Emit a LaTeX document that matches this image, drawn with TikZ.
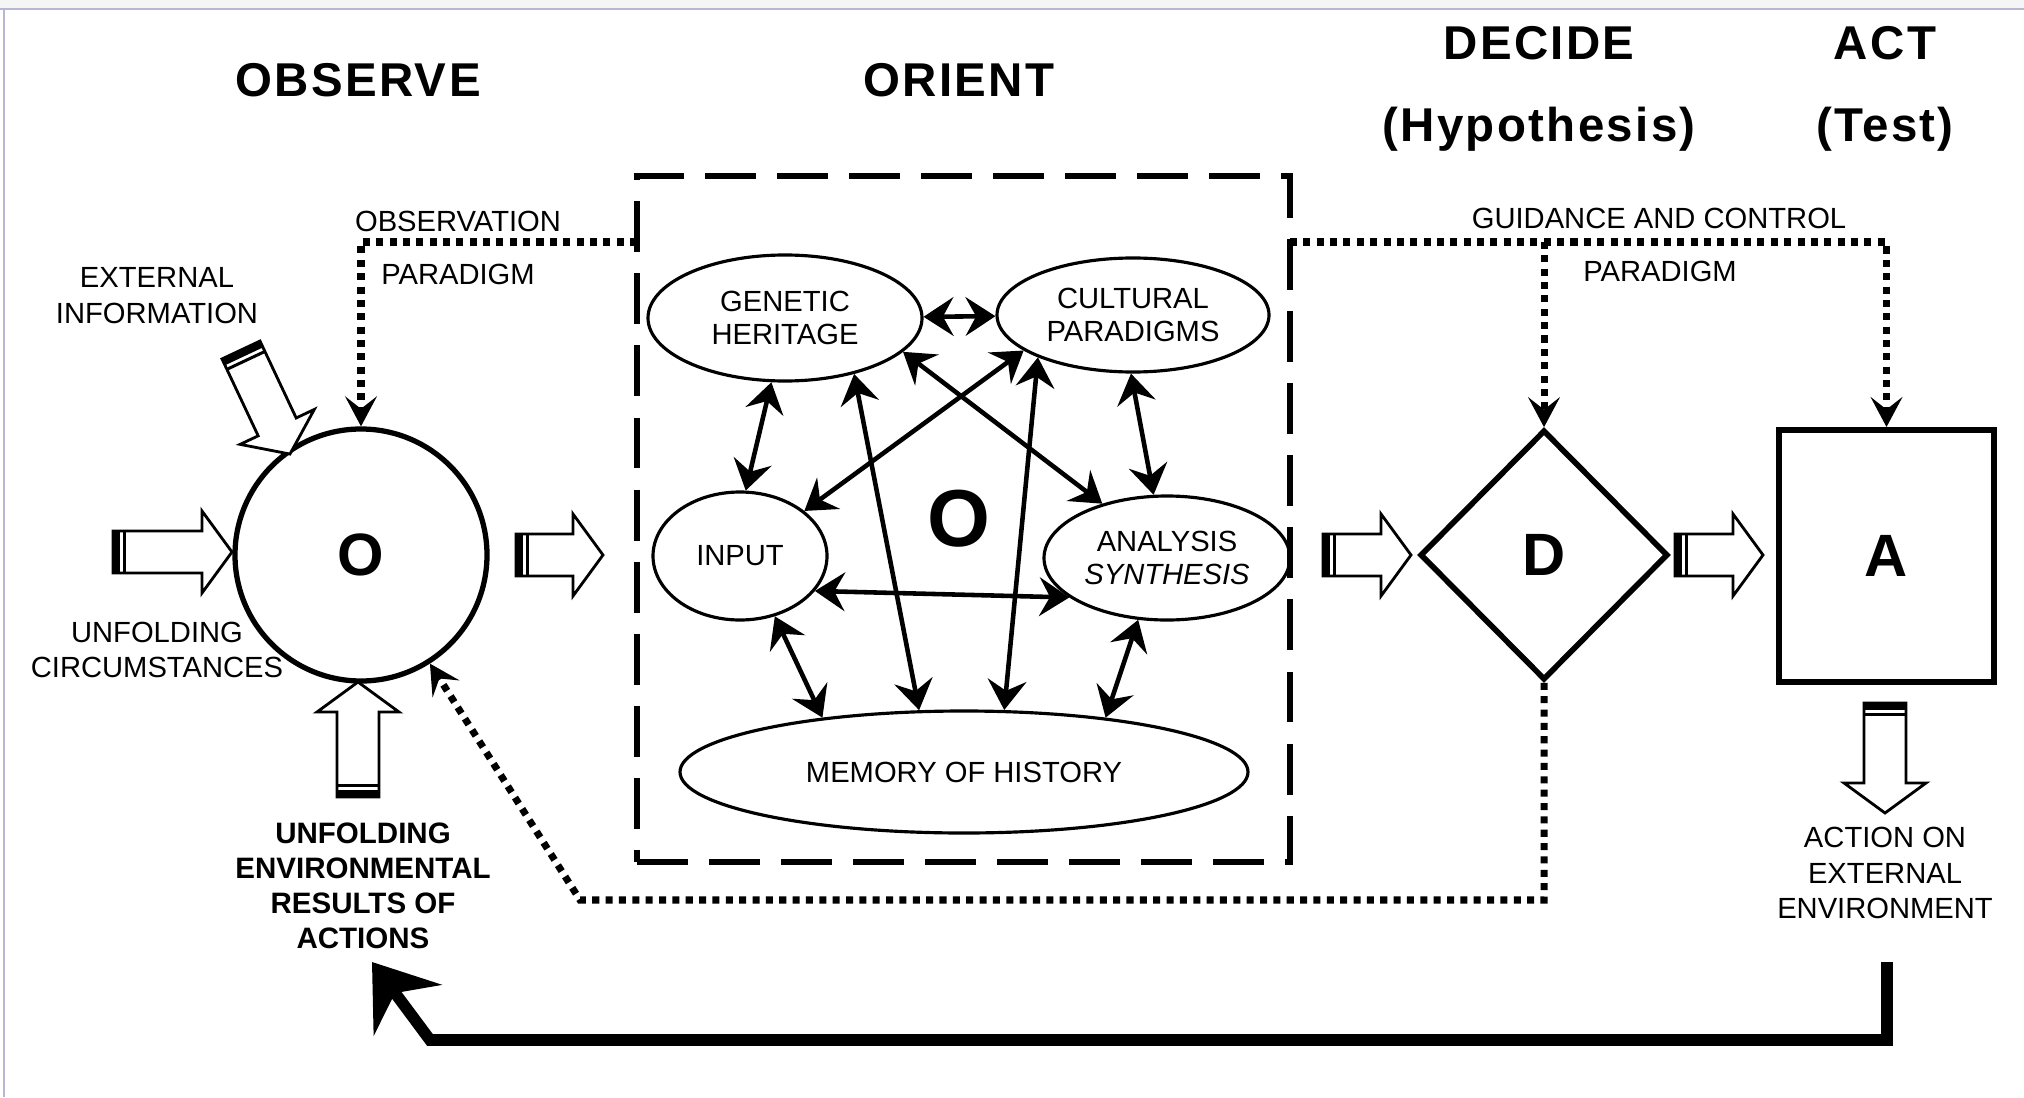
\documentclass[tikz,border=0pt]{standalone}
\usepackage{fontspec}
\setmainfont{Liberation Sans}
\newfontfamily\titlefont[LetterSpace=5]{Liberation Sans}
\usetikzlibrary{shapes.geometric,arrows.meta}

\newcommand{\fatarrow}[3]{%
  \begin{scope}[shift={#1},rotate=#2]
    \draw[line width=0.8pt,fill=white] (0,-0.21) -- ({#3-0.3},-0.21) -- ({#3-0.3},-0.41) -- (#3,0)
      -- ({#3-0.3},0.41) -- ({#3-0.3},0.21) -- (0,0.21) -- cycle;
    \fill (0,-0.21) rectangle (0.07,0.21);
    \fill (0.10,-0.21) rectangle (0.13,0.21);
  \end{scope}}

\begin{document}
\begin{tikzpicture}[
    lbl/.style={font=\fontsize{8.3}{10.2}\selectfont, align=center},
    ttl/.style={font=\titlefont\bfseries\fontsize{13.5}{16}\selectfont},
    blob/.style={draw, ellipse, line width=0.9pt, inner sep=0pt, align=center,
      font=\fontsize{8.3}{9.4}\selectfont},
    letter/.style={font=\bfseries\fontsize{17}{20}\selectfont},
    dots/.style={line width=2pt, dash pattern=on 2pt off 1.8pt,
      -{Stealth[length=8.5pt,width=9pt,inset=3.5pt]}},
  ]
  \useasboundingbox (0,0) rectangle (20.24,-10.97);
  \fill[gray!8] (0,0) rectangle (20.24,-0.09);
  \draw[blue!25!gray!45, line width=0.4pt] (0,-0.09) -- (20.24,-0.09);
  \draw[blue!25!gray!45, line width=0.4pt] (0.04,-0.09) -- (0.04,-10.97);

  \node[ttl] (tObs) at (3.58,-0.80) {OBSERVE};
  \node[ttl] (tOri) at (9.59,-0.80) {ORIENT};
  \node[ttl] (tDec) at (15.39,-0.43) {DECIDE};
  \node[ttl] (tHyp) at (15.39,-1.29) {(Hypothesis)};
  \node[ttl] (tAct) at (18.85,-0.43) {ACT};
  \node[ttl] (tTest) at (18.85,-1.29) {(Test)};

  \node[draw, circle, line width=1.5pt, minimum size=2.52cm, inner sep=0pt, letter] (obs) at (3.61,-5.55) {O};
  \node[draw, line width=1.7pt, dash pattern=on 14.5pt off 6pt,
    minimum width=6.53cm, minimum height=6.86cm] (orient) at (9.635,-5.19) {};
  \node[blob, minimum width=2.74cm, minimum height=1.26cm] (gh) at (7.85,-3.18) {GENETIC\\HERITAGE};
  \node[blob, minimum width=2.72cm, minimum height=1.14cm] (cp) at (11.33,-3.15) {CULTURAL\\PARADIGMS};
  \node[blob, minimum width=1.74cm, minimum height=1.28cm] (in) at (7.40,-5.56) {INPUT};
  \node[blob, minimum width=2.46cm, minimum height=1.24cm] (an) at (11.67,-5.58) {ANALYSIS\\\itshape SYNTHESIS};
  \node[blob, minimum width=5.68cm, minimum height=1.22cm] (mem) at (9.64,-7.72) {MEMORY OF HISTORY};
  \node[font=\bfseries\fontsize{23}{26}\selectfont] (bigO) at (9.59,-5.19) {O};
  \node[draw, diamond, line width=1.6pt, minimum width=2.48cm, minimum height=2.5cm,
    inner sep=0pt, letter] (dec) at (15.44,-5.55) {D};
  \node[draw, line width=1.7pt, minimum width=2.15cm, minimum height=2.52cm, letter] (act) at (18.865,-5.56) {A};

  \node[lbl] (extInfo) at (1.57,-2.96) {EXTERNAL\\INFORMATION};
  \node[lbl] (unfCirc) at (1.57,-6.50) {UNFOLDING\\CIRCUMSTANCES};
  \node[lbl, font=\bfseries\fontsize{8.4}{9.9}\selectfont] (unfRes) at (3.63,-8.86)
    {UNFOLDING\\ENVIRONMENTAL\\RESULTS OF\\ACTIONS};
  \node[lbl] (actExt) at (18.85,-8.73) {ACTION ON\\EXTERNAL\\ENVIRONMENT};
  \node[lbl] (obsPar) at (4.58,-2.21) {OBSERVATION};
  \node[lbl] (obsPar2) at (4.58,-2.74) {PARADIGM};
  \node[lbl] (gcPar) at (16.59,-2.18) {GUIDANCE AND CONTROL};
  \node[lbl] (gcPar2) at (16.60,-2.71) {PARADIGM};

  \fatarrow{(2.41,-3.50)}{-64.8}{1.15}
  \fatarrow{(1.13,-5.52)}{0}{1.19}
  \fatarrow{(3.58,-7.97)}{90}{1.15}
  \fatarrow{(5.16,-5.55)}{0}{0.87}
  \fatarrow{(13.23,-5.55)}{0}{0.88}
  \fatarrow{(16.75,-5.55)}{0}{0.88}
  \fatarrow{(18.85,-7.03)}{-90}{1.10}

  \begin{scope}[every edge/.style={draw=black, line width=1.3pt, <->,
      >={Stealth[length=8.5pt,width=11pt,inset=3pt]}}]
    \path (gh) edge (cp);
    \path (gh.258) edge (in.85);
    \path (cp.268) edge (an.102);
    \path (cp.198) edge (in.35);
    \path (gh.-16) edge (an.140);
    \path (in.-25) edge (an.202);
    \path (in.-60) edge (mem.159);
    \path (an.245) edge (mem.21);
    \path (gh.-39) edge (mem.126);
    \path (cp.204) edge (mem.57);
  \end{scope}

  \coordinate (opLeft) at (6.37,-2.42);
  \coordinate (gcRight) at (12.90,-2.42);
  \coordinate (fbCorner) at (5.80,-9.00);
  \draw[dots] (opLeft) -| (obs);
  \draw[dots] (gcRight) -| (act);
  \draw[dots] (dec.north |- gcRight) -- (dec);
  \draw[dots] (dec.south) |- (fbCorner) -- (obs);

  \coordinate (actFoot) at (18.87,-9.62);
  \coordinate (fbLow) at (4.30,-10.40);
  \coordinate (fbTip) at (3.72,-9.62);
  \draw[line width=3.3pt, -{Stealth[length=17pt,width=24pt,inset=6pt]}] (actFoot) |- (fbLow) -- (fbTip);
\end{tikzpicture}
\end{document}
